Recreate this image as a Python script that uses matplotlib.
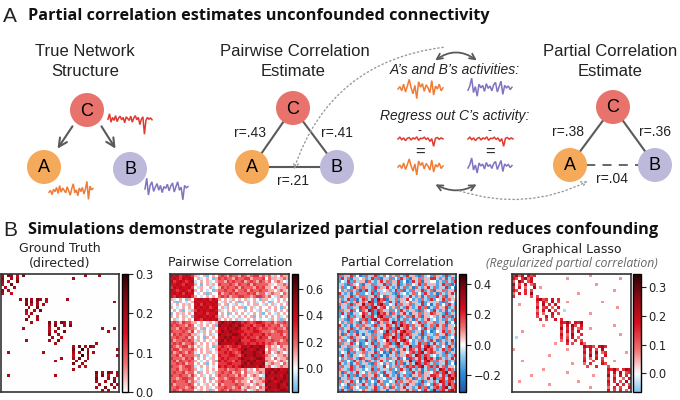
import numpy as np
import matplotlib
matplotlib.use("Agg")
import matplotlib.pyplot as plt
from matplotlib import patches
from matplotlib.colors import LinearSegmentedColormap, ListedColormap, Normalize
from matplotlib.cm import ScalarMappable

W, H = 680, 400

# ---------------- panel A values ----------------
pairwise_r = ["r=.43", "r=.41", "r=.21"]
partial_r = ["r=.38", "r=.36", "r=.04"]

# activity traces (arbitrary units)
wave_c = [0.3, 1.2, -0.2, 0.6, 0.1, 0.9, -0.1, 0.5, 0.8, 0.2, 0.6, -0.3, 0.7, 0.4, 0.1,
          0.8, -0.2, 0.5, 0.9, 0.2, 0.6, -0.6, 0.3, 0.7, -2.2, 0.1, 0.6, 0.3, 0.5, 0.2]
wave_a = [-0.2, 0.1, -0.6, 0.3, -0.1, 0.6, -0.4, 0.9, -0.2, 0.5, 0.1, -0.3, 0.7, 0.0, -0.7,
          0.4, 1.2, -0.3, 0.2, -0.8, 0.5, -0.1, 0.6, -0.5, 0.3, 1.6, -1.4, 0.8, 0.2, 0.4]
wave_b = [0.0, 1.8, -1.0, 0.6, 1.2, -0.4, 0.3, 0.9, -0.2, 0.6, -0.6, 0.4, 0.1, 0.8, -0.3,
          0.5, 1.0, -0.5, 0.4, 1.2, -0.2, 0.3, -1.8, 0.6, 0.2, 0.4]
wave_a_mid = [0.0, 0.4, -0.3, 0.8, -0.5, 0.5, 1.6, 0.2, -0.8, 0.6, -1.6, 1.2, 0.3, 0.9, -0.4,
              0.7, 0.2, -0.6, 1.4, -1.0, 0.5, 0.0, 0.8, -0.3, 0.2]
wave_b_mid = [-0.2, 0.5, 1.8, -0.6, 0.4, -1.2, 0.8, 0.2, 0.6, -0.4, 0.9, 0.1, 0.5, -0.3, 0.7,
              1.1, -0.5, 0.4, 1.3, -0.9, 0.6, 0.2, 0.5, -0.1, 0.3]
wave_c_mid = [0.3, 0.8, 0.1, 0.6, -0.2, 0.5, 0.7, 0.0, 0.6, 0.3, 0.9, -0.1, 0.5, 0.4, 0.8,
              0.2, 0.6, -0.4, 0.4, -1.8, 0.5, 0.7, 0.2, 0.6, 0.3]

# ---------------- panel B matrices (40 x 40, one char per cell) ----------------
gt_rows = [
    "6.76.5.7" "........" "........" "....6..." ".6......",
    "7..6.6.." "........" "........" "6......." "........",
    "6.5..7.." "........" "........" "........" "........",
    "5..7...." "........" "........" "........" "........",
    ".6..6..." "........" "........" "........" "........",
    "7.6....." "........" "........" "........" "........",
    "6..5...." "........" "........" "........" "........",
    "........" "........" "........" "........" "........",
    "......6." "7.6.76.6" "......6." "........" "........",
    "........" "6.7.6..5" "........" "........" "......6.",
    "........" "7.5.6.6." "........" "........" "........",
    "........" ".6..7..." "........" "........" "........",
    "........" "6..6.7.." "........" "........" "........",
    "........" "5.6....." "........" "........" "........",
    "........" ".6..6..." "........" "........" "........",
    "........" "7...6..." "........" "........" "........",
    "........" "..6....." "7.6.76.5" "........" "........",
    "........" "........" "6.7..6.7" "........" "........",
    ".......6" "........" "5..6...." "........" "..6...6.",
    "........" "........" "6.6..7.." "........" "....6...",
    "........" "........" "7..6...." "........" "........",
    "........" "........" ".6..5..." "........" "........",
    "........" "6......." "6..7...." "........" "........",
    "........" "........" "..6....." "........" "6.......",
    "........" "........" "........" "6.7.6.76" "........",
    "........" "........" "........" "7..9.6.." ".......6",
    "..6....." "......6." "........" "6.6..7.6" "........",
    "........" "........" "........" "5..9.6.." ".......6",
    "........" "........" "....6..." "6.7..6.." "........",
    "........" "........" "..6....." ".6..6..." "........",
    "........" "........" "........" "7..6...." "........",
    "........" "........" "........" "..6.5..." "........",
    "........" "........" "........" "6......." "........",
    "........" "........" "........" "........" "7.6.76.6",
    "..6....." "........" "..6....." "........" "6.7.5..6",
    "........" "........" "........" "........" "7...6.6.",
    "........" "........" "........" "........" "6..6..7.",
    "........" "........" "........" "........" ".6...6.6",
    "........" "........" "........" "........" "6..7..6.",
    "........" "........" "........" "........" "..6.6...",
]
gt_codes = {".": 0.0, "5": 0.17, "6": 0.2, "7": 0.24, "9": 0.3}
gt_lim = (0.0, 0.3)
gt_ticks = [0.0, 0.1, 0.2, 0.3]

pw_rows = [
    "54534543" "1y01z010" "23213221" "32123312" "12y10211",
    "45435454" "01y010z1" "32322132" "23312223" "0211y121",
    "53454345" "y0101y01" "22132322" "31232132" "1201210y",
    "44543544" "10z01y10" "32223213" "22313222" "21y01121",
    "35454453" "0y1001y0" "13232231" "32221323" "1102y112",
    "54345435" "1010y0z1" "22322312" "23132232" "2110121y",
    "45453544" "0y01z100" "31223232" "22323122" "y1211021",
    "43544453" "10y01010" "23231223" "32212332" "120y1211",
    "1y010z10" "45545354" "1010y101" "01y010z1" "10y01010",
    "01z10y01" "54454545" "0y10101z" "10101y01" "0z1010y1",
    "y0101y10" "45354454" "101z0y10" "y010110y" "101y0101",
    "10y01010" "54545345" "01y10101" "1z01y010" "01010z10",
    "0101z0y1" "35454554" "1y0101y0" "01010y10" "1y010101",
    "z01y1010" "54453445" "010z1010" "10y0101z" "010y1010",
    "10101y0z" "45545453" "y1010y01" "0101z010" "10101y01",
    "01y01010" "54354545" "1010101y" "y01010y0" "0y101z10",
    "23213221" "1010y101" "56545655" "34323443" "22312232",
    "32322132" "0y10101z" "65556546" "43342334" "23223122",
    "22132322" "101z0y10" "55465565" "33434323" "32232213",
    "32223213" "01y10101" "46556554" "43334432" "22123322",
    "13232231" "1y0101y0" "65545665" "34343334" "23222312",
    "22322312" "010z1010" "55656455" "43433243" "31222232",
    "31223232" "y1010y01" "56465556" "33344333" "22322123",
    "23231223" "1010101y" "65555465" "43433434" "23213222",
    "32123312" "01y010z1" "34323443" "55465565" "12y10211",
    "23312223" "10101y01" "43342334" "56545655" "0211y121",
    "31232132" "y010110y" "33434323" "65556546" "1201210y",
    "22313222" "1z01y010" "43334432" "46556554" "21y01121",
    "32221323" "01010y10" "34343334" "65545665" "1102y112",
    "23132232" "10y0101z" "43433243" "55656455" "2110121y",
    "22323122" "0101z010" "33344333" "56465556" "y1211021",
    "32212332" "y01010y0" "43433434" "65555465" "120y1211",
    "22312232" "10y01010" "22312232" "12y10211" "55656455",
    "23223122" "0z1010y1" "23223122" "0211y121" "56465556",
    "32232213" "101y0101" "32232213" "1201210y" "65555465",
    "22123322" "01010z10" "22123322" "21y01121" "55465565",
    "23222312" "1y010101" "23222312" "1102y112" "56545655",
    "31222232" "010y1010" "31222232" "2110121y" "65556546",
    "22322123" "10101y01" "22322123" "y1211021" "46556554",
    "23213222" "0y101z10" "23213222" "120y1211" "65545665",
]
pw_codes = {"z": -0.15, "y": -0.06, "0": 0.0, "1": 0.1, "2": 0.2, "3": 0.28,
            "4": 0.36, "5": 0.43, "6": 0.52}
pw_lim = (-0.18, 0.71)
pw_ticks = [0.0, 0.2, 0.4, 0.6]

pc_rows = [
    "2z1y3z0Z" "z2y13zy2" "0z1z2yz3" "y1zZ2y0z" "21yz3z1y",
    "z3y2Z1y0" "1zy3z2Zy" "y2z0z31z" "Z1y2z1y3" "3yz1Zy2z",
    "z0y3z2y1" "1Z2yz13y" "2z1y3z0Z" "z3y2Z1y0" "0z1z2yz3",
    "y1zZ2y0z" "Z1y2z1y3" "z2y13zy2" "z0y3z2y1" "1zy3z2Zy",
    "y2z0z31z" "21yz3z1y" "3yz1Zy2z" "1Z2yz13y" "2z1y3z0Z",
    "0z1z2yz3" "z3y2Z1y0" "1zy3z2Zy" "z2y13zy2" "Z1y2z1y3",
    "3yz1Zy2z" "z0y3z2y1" "y1zZ2y0z" "y2z0z31z" "1Z2yz13y",
    "z2y13zy2" "2z1y3z0Z" "21yz3z1y" "3yz1Zy2z" "z3y2Z1y0",
    "1zy3z2Zy" "32y3z423" "Z1y2z1y3" "0z1z2yz3" "z0y3z2y1",
    "1Z2yz13y" "2y43z32y" "z3y2Z1y0" "21yz3z1y" "y1zZ2y0z",
    "21yz3z1y" "4z23y342" "z0y3z2y1" "2z1y3z0Z" "y2z0z31z",
    "Z1y2z1y3" "23z34y23" "0z1z2yz3" "1zy3z2Zy" "z2y13zy2",
    "2z1y3z0Z" "2y43z32y" "y2z0z31z" "y1zZ2y0z" "3yz1Zy2z",
    "z3y2Z1y0" "32y3z423" "1Z2yz13y" "Z1y2z1y3" "21yz3z1y",
    "z0y3z2y1" "4z23y342" "z2y13zy2" "z3y2Z1y0" "1zy3z2Zy",
    "y1zZ2y0z" "23z34y23" "3yz1Zy2z" "1Z2yz13y" "0z1z2yz3",
    "0z1z2yz3" "y2z0z31z" "2y43z32y" "z0y3z2y1" "2z1y3z0Z",
    "3yz1Zy2z" "21yz3z1y" "32y3z423" "z2y13zy2" "z3y2Z1y0",
    "z2y13zy2" "1Z2yz13y" "23z34y23" "y2z0z31z" "Z1y2z1y3",
    "1zy3z2Zy" "y1zZ2y0z" "4z23y342" "2z1y3z0Z" "z0y3z2y1",
    "1Z2yz13y" "Z1y2z1y3" "32y3z423" "21yz3z1y" "z2y13zy2",
    "21yz3z1y" "0z1z2yz3" "2y43z32y" "3yz1Zy2z" "y1zZ2y0z",
    "y2z0z31z" "z3y2Z1y0" "4z23y342" "0z1z2yz3" "1Z2yz13y",
    "2z1y3z0Z" "z0y3z2y1" "23z34y23" "1zy3z2Zy" "3yz1Zy2z",
    "Z1y2z1y3" "z2y13zy2" "21yz3z1y" "4z23y342" "y2z0z31z",
    "y1zZ2y0z" "3yz1Zy2z" "1Z2yz13y" "32y3z423" "1zy3z2Zy",
    "z0y3z2y1" "2z1y3z0Z" "z3y2Z1y0" "23z34y23" "21yz3z1y",
    "z3y2Z1y0" "1zy3z2Zy" "Z1y2z1y3" "2y43z32y" "0z1z2yz3",
    "0z1z2yz3" "21yz3z1y" "2z1y3z0Z" "32y3z423" "1Z2yz13y",
    "y2z0z31z" "1Z2yz13y" "z0y3z2y1" "4z23y342" "z2y13zy2",
    "3yz1Zy2z" "y1zZ2y0z" "1zy3z2Zy" "2y43z32y" "2z1y3z0Z",
    "z2y13zy2" "Z1y2z1y3" "0z1z2yz3" "23z34y23" "z3y2Z1y0",
    "21yz3z1y" "z0y3z2y1" "y2z0z31z" "3yz1Zy2z" "2y43z32y",
    "1Z2yz13y" "0z1z2yz3" "y1zZ2y0z" "z3y2Z1y0" "23z34y23",
    "1zy3z2Zy" "2z1y3z0Z" "3yz1Zy2z" "Z1y2z1y3" "32y3z423",
    "Z1y2z1y3" "z3y2Z1y0" "z2y13zy2" "1Z2yz13y" "4z23y342",
    "2z1y3z0Z" "y2z0z31z" "z0y3z2y1" "21yz3z1y" "2y43z32y",
    "z0y3z2y1" "3yz1Zy2z" "0z1z2yz3" "y1zZ2y0z" "32y3z423",
    "y1zZ2y0z" "z2y13zy2" "1Z2yz13y" "1zy3z2Zy" "23z34y23",
    "z3y2Z1y0" "21yz3z1y" "Z1y2z1y3" "y2z0z31z" "4z23y342",
]
pc_codes = {"Z": -0.22, "z": -0.14, "y": -0.06, "0": 0.0, "1": 0.06, "2": 0.13,
            "3": 0.2, "4": 0.3}
pc_lim = (-0.31, 0.465)
pc_ticks = [-0.2, 0.0, 0.2, 0.4]

gl_rows = [
    "5736.645" "........" "........" "..2....." "........",
    "64.5736." "........" "..2....." "........" "....2...",
    "3.75.46." "........" "........" "........" "........",
    "7.4.6.35" "........" "........" "....2..." "........",
    "5.6.3..7" ".2......" "........" "........" "........",
    "64..5.4." "........" "........" "........" "..2.....",
    "3.6.5.7." "........" "......2." "........" "........",
    "5.....4." "4......." "........" "........" "........",
    "........" "6745.6.5" "........" "........" "........",
    "........" "5.63.7.4" "..2....." "......2." "........",
    "..2....." "4.7.5.6." "........" "........" "........",
    "........" "6.45.3.6" "........" "........" "...2....",
    "........" "3.6.7.4." ".b......" "........" "........",
    "........" "5.3..6.4" "........" "..2....." "........",
    "........" "4..6.5.." "........" "........" "........",
    "........" ".5.4..6." "5......." "........" "........",
    "........" "........" "6574.657" "........" "........",
    "........" "..2....." "5.6.74.6" "........" "..2.....",
    "........" "........" "7.5.6.35" "..2....." "........",
    "...2...." "........" "4.6.5.6." "........" "........",
    "........" "........" "6.3.7..5" "........" "....2...",
    ".b......" "........" "5.4.6.3." "........" "........",
    "........" "........" "3.6..5.4" "........" "........",
    "........" "......2." "..5.4..6" "3......." "........",
    "........" "........" "........" "7564.675" "........",
    "2......." "........" "..2....." "5.6.4.7." "........",
    "........" "........" "........" "6.5.7.35" "......2.",
    "........" "....2..." "........" "4.7.5..6" "........",
    "........" "........" "........" "5.3.6.4." "........",
    "...2...." "........" "........" "6..4..5." "..2.....",
    "........" "........" "....2..." "3.5...64" "........",
    "........" "........" "........" ".4..5..." "4.......",
    "........" "..2....." "........" "........" "6574.576",
    "........" "........" "..2....." "........" "5.6.7.45",
    "......2." "........" "........" "...2...." "7.4.6.5.",
    "........" "........" "........" "........" "4.6..3.6",
    "..2....." "........" "......2." "........" "6.5.4.7.",
    "........" "....2..." "........" "........" "5..6.5.4",
    "........" "........" "........" "..2....." "3.5.4..6",
    "........" "........" "........" "........" "6.4.5.3.",
]
gl_codes = {".": 0.0, "b": -0.04, "2": 0.06, "3": 0.09, "4": 0.12, "5": 0.15,
            "6": 0.18, "7": 0.23}
gl_lim = (-0.065, 0.345)
gl_ticks = [0.0, 0.1, 0.2, 0.3]

# ---------------- styling ----------------
C_RED, C_ORANGE, C_PURPLE = "#e8736c", "#f5a95b", "#bdb9da"
W_RED, W_ORANGE, W_PURPLE = "#e03a30", "#ef7b34", "#7f74c0"
EDGE = "#5a5a5a"
SANS = "Liberation Sans"

base_cmap = LinearSegmentedColormap.from_list("bwr_fig", [
    (0.00, "#0b1d4f"), (0.15, "#1d4f9e"), (0.30, "#2f8fd8"), (0.42, "#92cdf0"),
    (0.50, "#ffffff"), (0.62, "#f07070"), (0.75, "#d81020"), (0.88, "#8a0a14"),
    (1.00, "#2e0206")], N=4096)


def part_cmap(vmin, vmax):
    # centred at zero, only the data range is shown
    vlim = max(abs(vmin), abs(vmax))
    lo, hi = 0.5 + vmin / (2 * vlim), 0.5 + vmax / (2 * vlim)
    return ListedColormap(base_cmap(np.linspace(lo, hi, 4096)))


def decode(rows, codes):
    return np.array([[codes[ch] for ch in row] for row in rows])


def rect(x0, y0, x1, y1):
    return [x0 / W, 1 - y1 / H, (x1 - x0) / W, (y1 - y0) / H]


fig = plt.figure(figsize=(6.8, 4.0), dpi=100)
ax = fig.add_axes([0, 0, 1, 1])
ax.set_xlim(0, W)
ax.set_ylim(H, 0)
ax.axis("off")


def node(x, y, label, color):
    ax.add_patch(patches.Circle((x, y), 17, fc=color, ec="none", zorder=3))
    ax.text(x, y + 1, label, ha="center", va="center", fontsize=13, family=SANS, zorder=4)


def wave(vals, x0, x1, y0, amp, color):
    xs = np.linspace(x0, x1, len(vals))
    ax.plot(xs, y0 - amp * np.asarray(vals), color=color, lw=1.1, solid_joinstyle="miter")


def curve(p0, p1, rad, style, **kw):
    ax.add_patch(patches.FancyArrowPatch(p0, p1, connectionstyle=f"arc3,rad={rad}",
                                         arrowstyle=style, **kw))


# section titles
ax.text(3, 16, "A", fontsize=15, family=SANS, va="center", color="#222")
ax.text(28, 16, "Partial correlation estimates unconfounded connectivity", fontsize=11.7,
        fontweight="bold", family="Open Sans", va="center", color="#111")
ax.text(3, 230, "B", fontsize=15, family=SANS, va="center", color="#222")
ax.text(28, 230, "Simulations demonstrate regularized partial correlation reduces confounding",
        fontsize=11.7, fontweight="bold", family="Open Sans", va="center", color="#111")

# --- true network
ax.text(85, 52, "True Network", ha="center", va="center", fontsize=12, family=SANS, color="#222")
ax.text(85, 72, "Structure", ha="center", va="center", fontsize=12, family=SANS, color="#222")
for tip, tail in [((56, 151), (74, 124)), ((117, 151), (100, 124))]:
    ax.annotate("", xy=tip, xytext=tail,
                arrowprops=dict(arrowstyle="->", color=EDGE, lw=1.5, mutation_scale=15))
node(87, 110, "C", C_RED)
node(44, 167, "A", C_ORANGE)
node(130, 169, "B", C_PURPLE)
wave(wave_c, 108, 152, 121, 6, W_RED)
wave(wave_a, 49, 93, 191, 6, W_ORANGE)
wave(wave_b, 145, 188, 189, 6, W_PURPLE)

# --- pairwise estimate
ax.text(295, 52, "Pairwise Correlation", ha="center", va="center", fontsize=12, family=SANS, color="#222")
ax.text(293, 72, "Estimate", ha="center", va="center", fontsize=12, family=SANS, color="#222")
pc_, pa_, pb_ = (293, 108), (252, 167), (337, 167)
for p, q in [(pc_, pa_), (pc_, pb_), (pa_, pb_)]:
    ax.plot([p[0], q[0]], [p[1], q[1]], color=EDGE, lw=1.5, zorder=1)
node(*pc_, "C", C_RED)
node(*pa_, "A", C_ORANGE)
node(*pb_, "B", C_PURPLE)
for (x, y), lab in zip([(250, 133), (337, 133), (293, 181)], pairwise_r):
    ax.text(x, y, lab, ha="center", va="center", fontsize=10, family=SANS, color="#222")

# --- middle explanation
ax.text(455, 70, "A\u2019s and B\u2019s activities:", ha="center", va="center", fontsize=10,
        style="italic", family=SANS, color="#222")
ax.text(455, 116, "Regress out C\u2019s activity:", ha="center", va="center", fontsize=10,
        style="italic", family=SANS, color="#222")
wave(wave_a_mid, 398, 443, 89, 6, W_ORANGE)
wave(wave_b_mid, 468, 512, 89, 6, W_PURPLE)
wave(wave_c_mid, 398, 443, 140, 3.5, W_RED)
wave(wave_c_mid, 468, 513, 140, 3.5, W_RED)
wave(wave_a_mid, 398, 443, 167, 5, W_ORANGE)
wave(wave_b_mid, 468, 512, 167, 5, W_PURPLE)
for x in (420, 490):
    ax.text(x, 131, "-", ha="center", va="center", fontsize=9, family=SANS, color="#222")
    ax.text(x, 152, "=", ha="center", va="center", fontsize=12, family=SANS, color="#222")
curve((433, 62), (479, 62), -0.39, "<->", color=EDGE, lw=1.3, mutation_scale=10)
curve((433, 183), (479, 183), 0.3, "<->", color=EDGE, lw=1.3, mutation_scale=10)
curve((446, 47), (293, 172), 0.32, "->", color="#9a9a9a", lw=1.0, mutation_scale=9,
      linestyle=(0, (1, 2)))
curve((457, 190), (590, 180), 0.21, "->", color="#9a9a9a", lw=1.0, mutation_scale=9,
      linestyle=(0, (1, 2)))

# --- partial estimate
ax.text(610, 52, "Partial Correlation", ha="center", va="center", fontsize=12, family=SANS, color="#222")
ax.text(610, 72, "Estimate", ha="center", va="center", fontsize=12, family=SANS, color="#222")
qc, qa, qb = (613, 107), (570, 165), (655, 165)
ax.plot([qc[0], qa[0]], [qc[1], qa[1]], color=EDGE, lw=1.5, zorder=1)
ax.plot([qc[0], qb[0]], [qc[1], qb[1]], color=EDGE, lw=1.5, zorder=1)
ax.plot([qa[0], qb[0]], [qa[1], qb[1]], color=EDGE, lw=1.3, ls=(0, (5, 4)), zorder=1)
node(*qc, "C", C_RED)
node(*qa, "A", C_ORANGE)
node(*qb, "B", C_PURPLE)
for (x, y), lab in zip([(568, 132), (655, 132), (612, 179)], partial_r):
    ax.text(x, y, lab, ha="center", va="center", fontsize=10, family=SANS, color="#222")


# ---------------- panel B heatmaps ----------------
def heat(box, cbox, rows, codes, lim, ticks):
    cmap = part_cmap(*lim)
    hax = fig.add_axes(rect(*box))
    hax.imshow(decode(rows, codes), cmap=cmap, vmin=lim[0], vmax=lim[1],
               interpolation="nearest", aspect="auto")
    hax.set_xticks([])
    hax.set_yticks([])
    for s in hax.spines.values():
        s.set_color("#333333")
        s.set_linewidth(1.2)
    cax = fig.add_axes(rect(*cbox))
    cb = fig.colorbar(ScalarMappable(Normalize(*lim), cmap), cax=cax, ticks=ticks)
    cax.tick_params(labelsize=8.3, length=3.5, width=0.8, pad=2, colors="#222")
    cb.outline.set_linewidth(1.0)


Y0, Y1 = 274, 392
heat((1, Y0, 119, Y1), (122, Y0, 128, Y1), gt_rows, gt_codes, gt_lim, gt_ticks)
heat((170, Y0, 289, Y1), (292, Y0, 298, Y1), pw_rows, pw_codes, pw_lim, pw_ticks)
heat((338, Y0, 456, Y1), (459, Y0, 466, Y1), pc_rows, pc_codes, pc_lim, pc_ticks)
heat((512, Y0, 631, Y1), (633, Y0, 641, Y1), gl_rows, gl_codes, gl_lim, gl_ticks)

ax.text(60, 249, "Ground Truth", ha="center", va="center", fontsize=9, color="#222")
ax.text(60, 263, "(directed)", ha="center", va="center", fontsize=9, color="#222")
ax.text(230, 263, "Pairwise Correlation", ha="center", va="center", fontsize=9, color="#222")
ax.text(397, 263, "Partial Correlation", ha="center", va="center", fontsize=9, color="#222")
ax.text(572, 249, "Graphical Lasso", ha="center", va="center", fontsize=9, color="#222")
ax.text(572, 263, "(Regularized partial correlation)", ha="center", va="center", fontsize=8.8,
        style="italic", family="Open Sans", color="#666")

fig.savefig("out.png", dpi=100)
